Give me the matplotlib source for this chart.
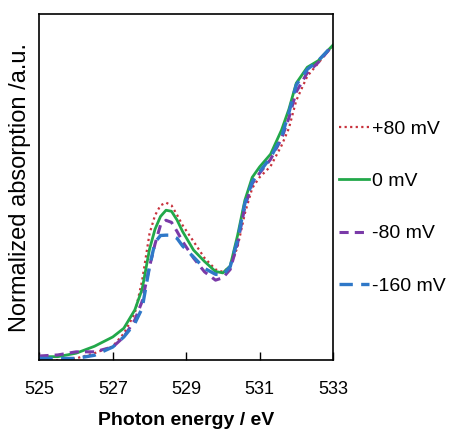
import matplotlib
matplotlib.use("Agg")
import matplotlib.pyplot as plt

plt.rcParams['font.family'] = ['Liberation Sans', 'DejaVu Sans']

energy = [525.0, 525.5, 526.0, 526.5, 527.0, 527.3, 527.6, 527.8, 528.0, 528.15,
          528.3, 528.45, 528.6, 528.75, 528.9, 529.2, 529.5, 529.8, 530.0, 530.2,
          530.4, 530.6, 530.8, 531.0, 531.3, 531.6, 531.8, 532.0, 532.3, 532.6, 533.0]

p80 = [0.000, 0.000, 0.005, 0.020, 0.040, 0.077, 0.135, 0.230, 0.365, 0.418,
       0.447, 0.455, 0.447, 0.420, 0.390, 0.343, 0.295, 0.262, 0.255, 0.270,
       0.327, 0.424, 0.497, 0.528, 0.560, 0.620, 0.670, 0.750, 0.820, 0.858, 0.910]
z0 = [0.010, 0.010, 0.020, 0.040, 0.067, 0.092, 0.145, 0.205, 0.320, 0.378,
      0.415, 0.433, 0.430, 0.405, 0.372, 0.318, 0.285, 0.256, 0.252, 0.272,
      0.360, 0.462, 0.528, 0.558, 0.595, 0.665, 0.725, 0.800, 0.846, 0.865, 0.910]
m80 = [0.012, 0.015, 0.024, 0.024, 0.038, 0.067, 0.116, 0.170, 0.270, 0.335,
       0.390, 0.404, 0.398, 0.372, 0.343, 0.295, 0.255, 0.231, 0.238, 0.262,
       0.337, 0.443, 0.510, 0.540, 0.580, 0.640, 0.700, 0.775, 0.830, 0.860, 0.910]
m160 = [0.005, 0.005, 0.005, 0.014, 0.038, 0.067, 0.106, 0.150, 0.270, 0.340,
        0.360, 0.361, 0.361, 0.352, 0.330, 0.298, 0.265, 0.248, 0.246, 0.270,
        0.347, 0.453, 0.515, 0.544, 0.585, 0.645, 0.715, 0.795, 0.840, 0.865, 0.910]

labels = ['+80 mV', '0 mV', '-80 mV', '-160 mV']
xticks = [525, 527, 529, 531, 533]

fig = plt.figure(figsize=(4.53, 4.36), dpi=100)
ax = fig.add_axes([0.087, 0.174, 0.648, 0.794])

ax.plot(energy, p80, color='#c8323c', lw=1.6, ls=(0, (1, 1.5)), label=labels[0])
ax.plot(energy, z0, color='#22a84a', lw=2.0, ls='-', label=labels[1])
ax.plot(energy, m80, color='#7a3aa8', lw=2.2, ls=(0, (3, 2)), label=labels[2])
ax.plot(energy, m160, color='#2f78c8', lw=2.4, ls=(0, (4, 2.5)), label=labels[3])

ax.set_xlim(525, 533)
ax.set_ylim(0, 1)
ax.set_xticks(xticks)
ax.set_xticklabels([str(t) for t in xticks])
ax.set_yticks([])
ax.tick_params(axis='x', direction='in', length=6, width=1, pad=15, labelsize=13)
for s in ax.spines.values():
    s.set_linewidth(1.2)

ax.set_xlabel('Photon energy / eV', fontsize=14, fontweight='bold', labelpad=10)
ax.set_ylabel('Normalized absorption /a.u.', fontsize=17, labelpad=6)

ax.legend(loc='upper left', bbox_to_anchor=(0.995, 0.715), frameon=False,
          fontsize=14, handlelength=1.55, handletextpad=0.15, labelspacing=1.78,
          borderaxespad=0)

fig.savefig('out.png', dpi=100)
